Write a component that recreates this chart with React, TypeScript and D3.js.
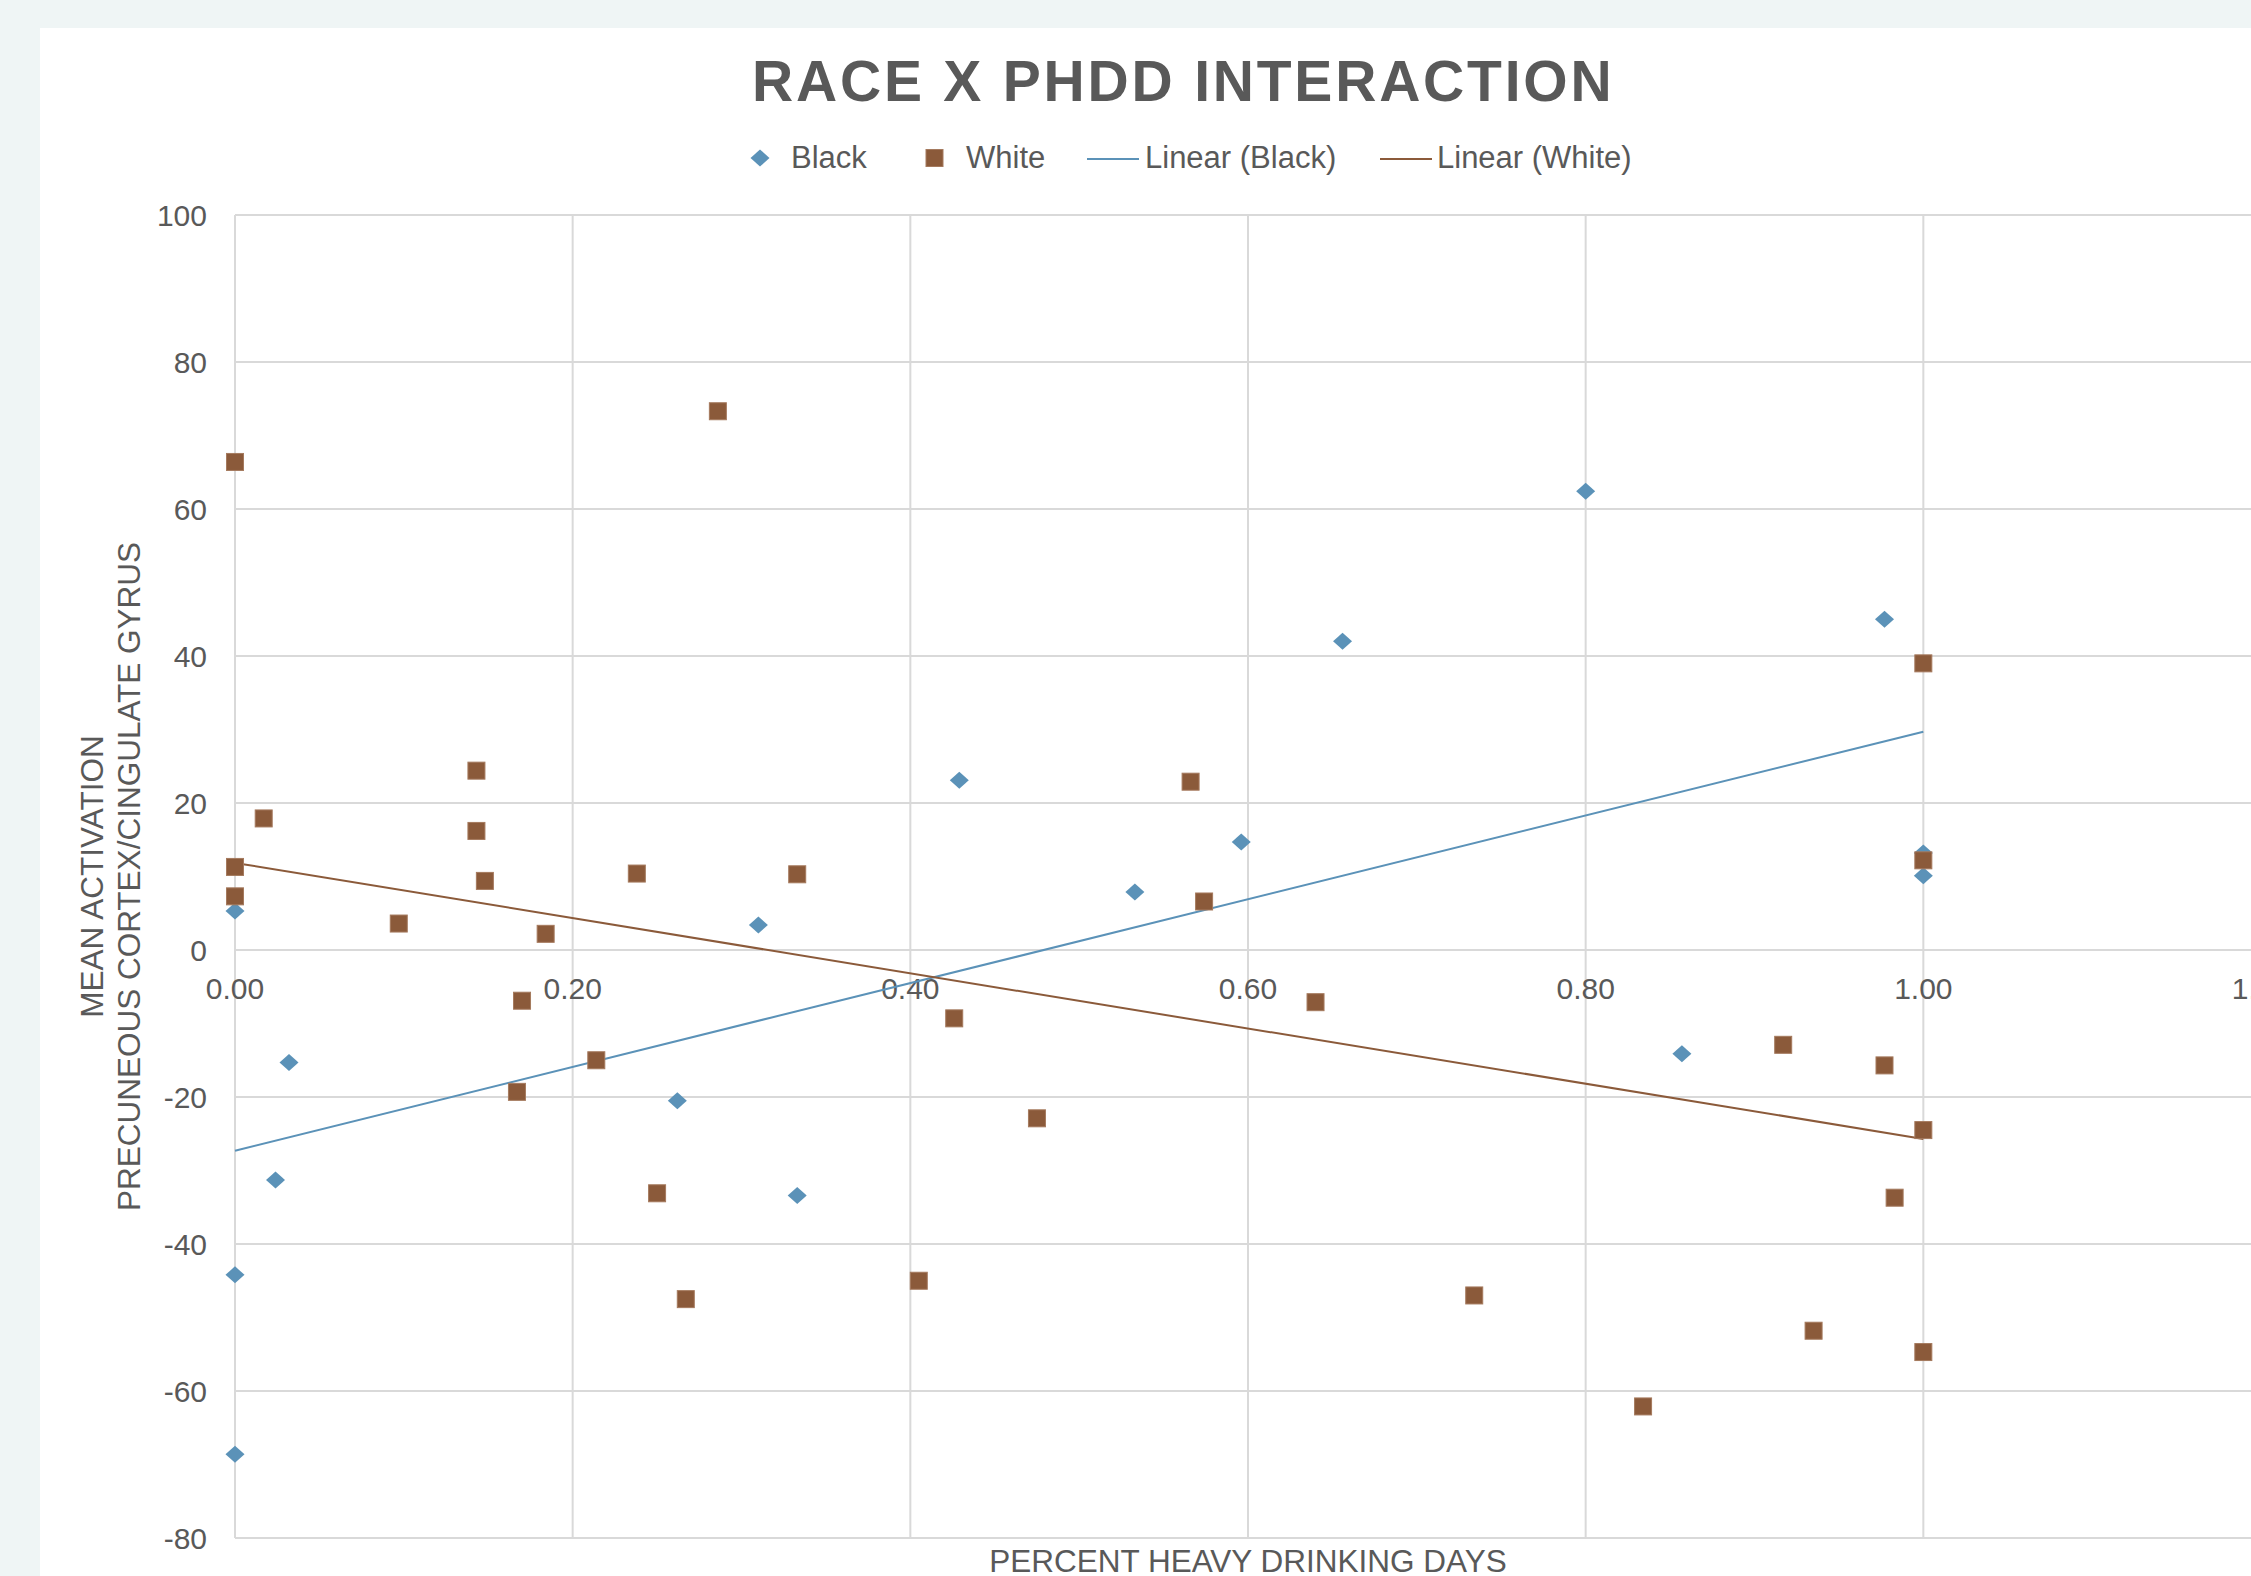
import React, { useEffect, useRef } from "react";
import * as d3 from "d3";

// Black series (diamonds)
const blackX = [0, 0.032, 0.024, 0, 0, 0.262, 0.31, 0.333, 0.429, 0.533, 0.596, 0.656, 0.8, 0.857, 0.977, 1, 1];
const blackY = [5.3, -15.3, -31.3, -44.2, -68.6, -20.5, 3.4, -33.4, 23.1, 7.9, 14.7, 42.0, 62.4, -14.1, 45.0, 13.2, 10.1];

// White series (squares)
const whiteX = [0, 0.286, 0.017, 0, 0, 0.097, 0.143, 0.143, 0.148, 0.184, 0.17, 0.167, 0.214, 0.238, 0.25, 0.267, 0.333,
  0.405, 0.426, 0.475, 0.566, 0.574, 0.64, 0.734, 0.834, 0.917, 0.935, 0.977, 0.983, 1, 1, 1, 1];
const whiteY = [66.4, 73.3, 17.9, 11.3, 7.3, 3.6, 24.4, 16.2, 9.4, 2.2, -6.9, -19.3, -15.0, 10.4, -33.1, -47.5, 10.3,
  -45.0, -9.3, -22.9, 22.9, 6.6, -7.1, -47.0, -62.1, -12.9, -51.8, -15.7, -33.7, 39.0, 12.2, -24.5, -54.7];

// linear trendlines, read at x = 0 and x = 1
const trendX = [0, 1];
const trendBlackY = [-27.3, 29.7];
const trendWhiteY = [11.85, -25.7];

const yTicks = [-80, -60, -40, -20, 0, 20, 40, 60, 80, 100];
const xTicks = [0, 0.2, 0.4, 0.6, 0.8, 1.0, 1.2];

const BLUE = "#5b92b8";
const BROWN = "#8b5a3a";
const TEXT = "#595959";
const GRID = "#d9d9d9";
const FONT = "'Liberation Sans', Arial, sans-serif";

const W = 2251;
const H = 1576;

const diamond = (cx, cy) => `M${cx},${cy - 8.5}L${cx + 9.5},${cy}L${cx},${cy + 8.5}L${cx - 9.5},${cy}Z`;

export default function App() {
  const svgRef = useRef(null);

  useEffect(() => {
    document.body.style.margin = "0";
    document.body.style.overflow = "hidden";

    const svg = d3.select(svgRef.current);
    svg.selectAll("*").remove();

    const x = d3.scaleLinear().domain([0, 1.2]).range([235, 2261]);
    const y = d3.scaleLinear().domain([-80, 100]).range([1538, 215]);

    svg.append("rect").attr("width", W).attr("height", H).attr("fill", "#eff5f5");
    svg.append("rect").attr("x", 40).attr("y", 28).attr("width", W - 40).attr("height", H - 28).attr("fill", "#ffffff");

    // title
    svg.append("text")
      .attr("x", 752).attr("y", 101)
      .style("font-family", FONT).style("font-size", "57px").style("font-weight", "bold")
      .style("letter-spacing", "2.8px")
      .attr("fill", TEXT)
      .text("RACE X PHDD INTERACTION");

    // grid
    const grid = svg.append("g");
    grid.selectAll(".h").data(yTicks).join("line")
      .attr("x1", x(0)).attr("x2", x(1.2))
      .attr("y1", (d) => y(d)).attr("y2", (d) => y(d))
      .attr("stroke", GRID).attr("stroke-width", 2);
    grid.selectAll(".v").data(xTicks).join("line")
      .attr("x1", (d) => x(d)).attr("x2", (d) => x(d))
      .attr("y1", y(100)).attr("y2", y(-80))
      .attr("stroke", GRID).attr("stroke-width", 2);

    // y tick labels
    svg.append("g").selectAll("text").data(yTicks).join("text")
      .attr("x", 207).attr("y", (d) => y(d) + 11)
      .attr("text-anchor", "end")
      .style("font-family", FONT).style("font-size", "30px")
      .attr("fill", TEXT)
      .text((d) => d);

    // x tick labels along the zero line
    svg.append("g").selectAll("text").data(xTicks).join("text")
      .attr("x", (d) => x(d)).attr("y", y(0) + 49)
      .attr("text-anchor", "middle")
      .style("font-family", FONT).style("font-size", "30px")
      .attr("fill", TEXT)
      .text((d) => d3.format(".2f")(d));

    // axis titles
    svg.append("text")
      .attr("x", x(0.6)).attr("y", 1572)
      .attr("text-anchor", "middle")
      .style("font-family", FONT).style("font-size", "31.5px")
      .attr("fill", TEXT)
      .text("PERCENT HEAVY DRINKING DAYS");

    const yMid = (y(100) + y(-80)) / 2;
    const yt = svg.append("text")
      .attr("transform", `translate(0, ${yMid}) rotate(-90)`)
      .attr("text-anchor", "middle")
      .style("font-family", FONT).style("font-size", "31.5px")
      .attr("fill", TEXT);
    yt.append("tspan").attr("x", 0).attr("y", 103).text("MEAN ACTIVATION");
    yt.append("tspan").attr("x", 0).attr("y", 140).text("PRECUNEOUS CORTEX/CINGULATE GYRUS");

    // trendlines
    const line = d3.line().x((d) => x(d[0])).y((d) => y(d[1]));
    svg.append("path")
      .datum(trendX.map((v, i) => [v, trendBlackY[i]]))
      .attr("d", line).attr("fill", "none").attr("stroke", BLUE).attr("stroke-width", 2);
    svg.append("path")
      .datum(trendX.map((v, i) => [v, trendWhiteY[i]]))
      .attr("d", line).attr("fill", "none").attr("stroke", BROWN).attr("stroke-width", 2);

    // markers
    svg.append("g").selectAll("path").data(blackX.map((v, i) => [v, blackY[i]])).join("path")
      .attr("d", (d) => diamond(x(d[0]), y(d[1])))
      .attr("fill", BLUE);
    svg.append("g").selectAll("rect").data(whiteX.map((v, i) => [v, whiteY[i]])).join("rect")
      .attr("x", (d) => x(d[0]) - 8.5).attr("y", (d) => y(d[1]) - 8.5)
      .attr("width", 17).attr("height", 17)
      .attr("fill", BROWN).attr("stroke", "#a57a5e").attr("stroke-width", 1);

    // legend
    const lg = svg.append("g").style("font-family", FONT).style("font-size", "31px").attr("fill", TEXT);
    lg.append("path").attr("d", diamond(760, 158)).attr("fill", BLUE);
    lg.append("text").attr("x", 791).attr("y", 168).text("Black");
    lg.append("rect").attr("x", 926).attr("y", 149.5).attr("width", 17).attr("height", 17)
      .attr("fill", BROWN).attr("stroke", "#a57a5e").attr("stroke-width", 1);
    lg.append("text").attr("x", 966).attr("y", 168).text("White");
    lg.append("line").attr("x1", 1087).attr("x2", 1139).attr("y1", 159).attr("y2", 159)
      .attr("stroke", BLUE).attr("stroke-width", 2);
    lg.append("text").attr("x", 1145).attr("y", 168).text("Linear (Black)");
    lg.append("line").attr("x1", 1380).attr("x2", 1432).attr("y1", 159).attr("y2", 159)
      .attr("stroke", BROWN).attr("stroke-width", 2);
    lg.append("text").attr("x", 1437).attr("y", 168).text("Linear (White)");
  }, []);

  return <svg ref={svgRef} width={W} height={H} style={{ display: "block" }} />;
}
